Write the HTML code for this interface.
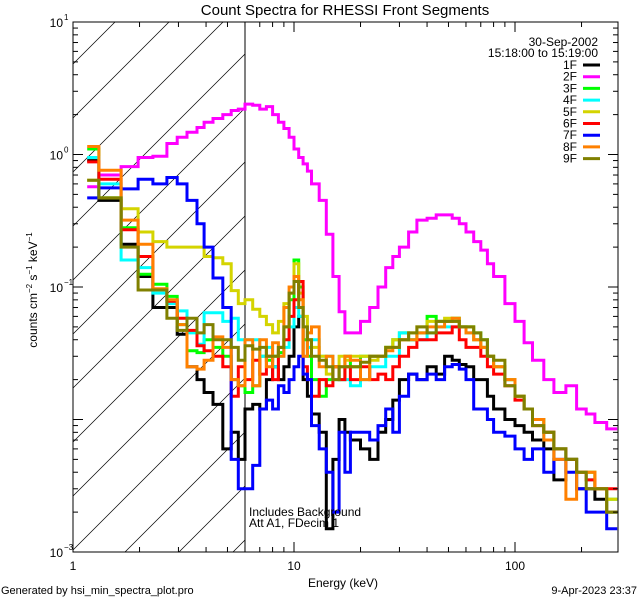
<!DOCTYPE html>
<html><head><meta charset="utf-8"><style>
html,body{margin:0;padding:0;background:#fff;}
svg{display:block;font-family:"Liberation Sans",sans-serif;}
</style></head><body>
<svg id="chart" width="640" height="600" viewBox="0 0 640 600" xmlns="http://www.w3.org/2000/svg">
<rect width="640" height="600" fill="#fff"/>
<text x="345" y="15" font-size="15" text-anchor="middle">Count Spectra for RHESSI Front Segments</text>
<defs><clipPath id="plotclip"><rect x="73" y="22" width="545" height="530"/></clipPath>
<clipPath id="hatchclip"><rect x="73" y="22" width="172" height="530"/></clipPath></defs>
<g id="hatch" clip-path="url(#hatchclip)"></g>
<line x1="245" y1="22" x2="245" y2="552" stroke="#000" stroke-width="1"/>
<g id="series" clip-path="url(#plotclip)"></g>
<rect x="73" y="22" width="545" height="530" fill="none" stroke="#000" stroke-width="1"/>
<g id="axes"></g>
<text transform="translate(37,290) rotate(-90)" font-size="12" text-anchor="middle">counts cm<tspan font-size="8" dy="-5">−2</tspan><tspan dy="5"> s</tspan><tspan font-size="8" dy="-5">−1</tspan><tspan dy="5"> keV</tspan><tspan font-size="8" dy="-5">−1</tspan></text>
<text x="343" y="587" font-size="12" text-anchor="middle">Energy (keV)</text>
<text x="598" y="46" font-size="12" text-anchor="end">30-Sep-2002</text>
<text x="598" y="57" font-size="12" text-anchor="end">15:18:00 to 15:19:00</text>
<g id="legend"></g>
<text x="249" y="516" font-size="12">Includes Background</text>
<text x="249" y="527" font-size="12">Att A1, FDecim 1</text>
<text x="1" y="594" font-size="11">Generated by hsi_min_spectra_plot.pro</text>
<text x="637" y="594" font-size="11" text-anchor="end">9-Apr-2023 23:37</text>
</svg>
<script>
const edges=[1.16,1.31,1.65,1.97,2.3,2.66,2.96,3.28,3.64,3.92,4.3,4.76,5.2,5.6,6.0,6.5,7.0,7.5,8.0,8.5,9.0,9.5,10,10.5,11,11.5,12,13,14,15,16,17,18,20,22,24,26,28,30,33,36,40,44,48,52,56,60,65,70,75,80,90,100,110,120,135,150,170,190,210,230,260,290];
const seg1F=[0.9,0.45,0.21,0.12,0.07,0.07,0.044,0.025,0.02,0.016,0.013,0.006,0.008,0.005,.012,.013,.012,.02,.025,.02,.025,.03,.05,.06,.02,.015,.011,.008,.0015,.005,.01,.008,.007,.006,.005,.008,.01,.014,.02,.022,.02,.025,.022,.03,.028,.026,.025,.02,.02,.015,.012,.01,.009,.008,.007,.006,.0035,.005,.003,.003,.0025,.002];
const seg2F=[0.57,0.70,0.81,0.95,0.97,1.21,1.35,1.47,1.6,1.75,1.87,2.0,2.15,2.2,2.4,2.35,2.2,2.3,2.0,1.75,1.57,1.35,1.1,0.95,0.85,0.75,0.6,0.45,0.25,0.12,0.065,0.045,0.045,0.055,0.07,0.1,0.14,0.17,0.2,0.26,0.32,0.33,0.35,0.35,0.33,0.3,0.26,0.22,0.19,0.15,0.12,0.075,0.055,0.038,0.028,0.02,0.016,0.018,0.012,0.011,0.0095,0.0085];
const seg3F=[1.1,0.47,0.28,0.125,0.105,0.085,0.052,0.033,0.032,0.04,0.035,0.03,0.02,0.018,.016,.018,.03,.028,.03,.032,.05,.08,.16,.1,.04,.03,.02,.015,.02,.025,.02,.03,.025,.03,.03,.03,.035,.04,.045,.04,.045,.06,.055,.055,.058,.05,.05,.045,.04,.03,.025,.02,.015,.012,.01,.008,.006,.005,.004,.004,.003,.0025];
const seg4F=[0.95,0.6,0.16,0.14,0.09,0.075,0.066,0.045,0.037,0.064,0.064,0.055,0.058,0.04,.04,.04,.03,.035,.025,.03,.035,.05,.07,.06,.05,.035,.04,.03,.03,.02,.02,.02,.018,.02,.025,.025,.03,.03,.045,.04,.04,.045,.05,.05,.05,.05,.045,.04,.035,.03,.025,.02,.015,.012,.01,.007,.006,.005,.004,.0035,.003,.002];
const seg5F=[0.64,0.47,0.39,0.26,0.22,0.2,0.2,0.2,0.2,0.17,0.166,0.15,0.094,0.075,.08,.068,.06,.052,.045,.055,.075,.09,.15,.09,.06,.04,.035,.03,.022,.025,.03,.028,.03,.03,.028,.03,.035,.04,.04,.045,.05,.055,.055,.058,.055,.05,.05,.04,.035,.03,.025,.02,.015,.012,.01,.008,.006,.005,.004,.004,.003,.0025];
const seg6F=[0.88,0.65,0.27,0.17,0.095,0.078,0.058,0.047,0.036,0.033,0.03,0.025,0.015,0.025,.02,.028,.022,.03,.02,.035,.04,.06,.08,.11,.025,.02,.015,.02,.018,.025,.02,.025,.02,.025,.02,.022,.02,.025,.03,.035,.04,.04,.045,.045,.05,.04,.035,.035,.03,.025,.022,.018,.014,.012,.009,.008,.006,.005,.004,.0035,.003,.003];
const seg7F=[0.47,0.56,0.55,0.65,0.6,0.67,0.6,0.45,0.3,0.2,0.117,0.07,0.005,0.003,.003,.0045,.012,.014,.012,.018,.016,.02,.025,.03,.022,.02,.009,.006,.004,.002,.008,.004,.008,.008,.007,.009,.012,.008,.015,.022,.02,.022,.02,.025,.026,.024,.02,.012,.012,.01,.008,.0075,.006,.005,.006,.004,.005,.004,.003,.002,.002,.0015];
const seg8F=[1.15,0.76,0.32,0.21,0.097,0.08,0.052,0.025,0.024,0.028,0.042,0.035,0.02,0.018,.04,.018,.04,.025,.038,.03,.07,.1,.12,.08,.03,.045,.05,.025,.03,.025,.025,.03,.028,.02,.03,.03,.033,.035,.04,.04,.045,.05,.05,.055,.058,.05,.045,.04,.035,.03,.025,.02,.015,.012,.01,.007,.005,.0025,.004,.004,.003,.002];
const seg9F=[0.64,0.47,0.2,0.095,0.095,0.058,0.047,0.058,0.045,0.052,0.04,0.04,0.035,0.028,.036,.034,.035,.03,.03,.035,.05,.09,.11,.07,.05,.04,.03,.028,.025,.02,.025,.025,.025,.027,.03,.03,.035,.035,.04,.045,.05,.045,.055,.055,.055,.05,.05,.045,.04,.03,.028,.018,.015,.012,.009,.008,.006,.005,.004,.003,.003,.002];
const seriesNames=["1F","2F","3F","4F","5F","6F","7F","8F","9F"];
const xTickLabels=["1","10","100"];
const yTickExps=["1","0","−1","−3"];

const NS="http://www.w3.org/2000/svg";
const X0=73,X1=618,Y0=552,Y1=22,XDEC=221,YDEC=132.5;
function xs(e){return X0+Math.log10(e)*XDEC;}
function ys(v){return Y1+(1-Math.log10(v))*YDEC;}
function mk(tag,attrs,parent){const el=document.createElementNS(NS,tag);for(const k in attrs)el.setAttribute(k,attrs[k]);parent.appendChild(el);return el;}

// hatch
const hatch=document.getElementById('hatch');
for(let c=-400;c<900;c+=54){
  const l=mk('line',{x1:c+159-22,y1:22,x2:c+159-22-600,y2:622,stroke:'#000','stroke-width':0.7},hatch);
  
  
}

const colors=["#000000","#ff00ff","#00ff00","#00ffff","#d4d400","#ff0000","#0000ff","#ff8000","#808000"];
const data=[seg1F,seg2F,seg3F,seg4F,seg5F,seg6F,seg7F,seg8F,seg9F];
const sg=document.getElementById('series');
const order=[0,1,2,3,4,5,6,7,8];
order.forEach(i=>{
  const vals=data[i];let d="";
  for(let b=0;b<vals.length;b++){
    const v=Math.max(vals[b],0.0006);
    const y=ys(v).toFixed(1);
    d+=(b===0?"M":"L")+xs(edges[b]).toFixed(1)+","+y+"L"+xs(edges[b+1]).toFixed(1)+","+y;
  }
  const p=mk('path',{d:d,fill:'none',stroke:colors[i],'stroke-width':3,'stroke-linejoin':'miter'},sg);
  
  
});

// axes
const ax=document.getElementById('axes');
for(let dec=0;dec<3;dec++){
  for(let m=1;m<10;m++){
    const e=Math.pow(10,dec)*m;const x=xs(e);if(x>X1)break;
    const len=m===1?10:5;
    const t1=mk('line',{x1:x,y1:Y0,x2:x,y2:Y0-len,stroke:'#000'},ax);
    
    
    const t2=mk('line',{x1:x,y1:Y1,x2:x,y2:Y1+len,stroke:'#000'},ax);
    
    
  }
}
xTickLabels.forEach(s=>{
  const t=mk('text',{x:xs(parseFloat(s)),y:570,'font-size':12,'text-anchor':'middle'},ax);
  t.textContent=s;
  
  
});
for(let p=-3;p<1;p++){
  for(let m=1;m<10;m++){
    const v=Math.pow(10,p)*m;const y=ys(v);
    const len=m===1?10:5;
    const a=mk('line',{x1:X0,y1:y,x2:X0+len,y2:y,stroke:'#000'},ax);
    
    
    const b=mk('line',{x1:X1,y1:y,x2:X1-len,y2:y,stroke:'#000'},ax);
    
    
  }
}
yTickExps.forEach(s=>{
  const p=parseFloat(s.replace('−','-'));
  const t=mk('text',{x:63,y:ys(Math.pow(10,p))+5,'font-size':12,'text-anchor':'end'},ax);
  t.textContent="10";
  
  
  const e=mk('text',{x:64,y:ys(Math.pow(10,p))-2,'font-size':8},ax);
  e.textContent=s;
  
  
});

// legend
const lg=document.getElementById('legend');
seriesNames.forEach((n,i)=>{
  const y=65+i*11.7;
  const t=mk('text',{x:577,y:y+4,'font-size':12,'text-anchor':'end'},lg);
  t.textContent=n;
  
  
  const l=mk('line',{x1:583,y1:y,x2:600,y2:y,stroke:colors[i],'stroke-width':3},lg);
  
  
});
</script>
</body></html>
